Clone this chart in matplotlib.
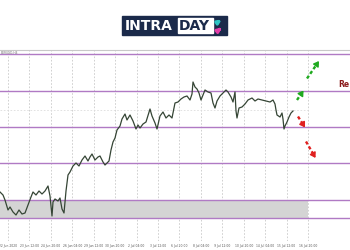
import matplotlib
matplotlib.use("Agg")
import matplotlib.pyplot as plt
from matplotlib.patches import Rectangle, FancyArrowPatch

# ---------------- data ----------------
bars = [0, 3, 5, 8, 10, 13, 16, 19, 22, 25, 28, 31, 33, 36, 39, 42, 45, 48, 50, 52,
        53, 55, 58, 60, 62, 64, 66, 68, 70, 73, 76, 79, 82, 85, 88, 90, 92, 95, 98, 100,
        103, 105, 107, 109, 111, 113, 115, 117, 120, 122, 125, 127, 130, 133, 136, 138,
        140, 143, 146, 150, 152, 155, 157, 160, 163, 166, 169, 172, 175, 178, 181, 184,
        187, 190, 192, 193, 195, 197, 199, 201, 203, 205, 208, 211, 213, 215, 217, 220,
        223, 226, 228, 231, 233, 235, 236, 237, 239, 242, 245, 248, 252, 255, 258, 262,
        266, 270, 273, 275, 276, 277, 280, 282, 283, 284, 285, 287, 289, 291, 293]
price = [1.1616, 1.1610, 1.1600, 1.1580, 1.1586, 1.1576, 1.1570, 1.1580, 1.1572, 1.1574,
         1.1590, 1.1606, 1.1616, 1.1610, 1.1618, 1.1612, 1.1618, 1.1628, 1.1608, 1.1568,
         1.1596, 1.1602, 1.1598, 1.1604, 1.1582, 1.1574, 1.1618, 1.1650, 1.1656, 1.1668,
         1.1674, 1.1668, 1.1680, 1.1688, 1.1678, 1.1686, 1.1692, 1.1680, 1.1686, 1.1688,
         1.1676, 1.1670, 1.1674, 1.1678, 1.1700, 1.1716, 1.1724, 1.1740, 1.1748, 1.1762,
         1.1772, 1.1760, 1.1770, 1.1758, 1.1742, 1.1750, 1.1744, 1.1752, 1.1756, 1.1782,
         1.1768, 1.1754, 1.1742, 1.1768, 1.1776, 1.1764, 1.1770, 1.1764, 1.1794, 1.1796,
         1.1802, 1.1806, 1.1808, 1.1800, 1.1812, 1.1836, 1.1826, 1.1822, 1.1814, 1.1800,
         1.1810, 1.1820, 1.1816, 1.1814, 1.1794, 1.1784, 1.1798, 1.1808, 1.1814, 1.1820,
         1.1816, 1.1806, 1.1796, 1.1816, 1.1778, 1.1764, 1.1784, 1.1786, 1.1792, 1.1800,
         1.1804, 1.1798, 1.1802, 1.1800, 1.1798, 1.1796, 1.1800, 1.1792, 1.1780, 1.1770,
         1.1766, 1.1774, 1.1762, 1.1742, 1.1748, 1.1756, 1.1766, 1.1774, 1.1778]

levels = [1.1892, 1.1818, 1.1746, 1.1674, 1.1600, 1.1564]
zone = (1.1564, 1.1600)
zone_end_bar = 308
grid_prices = [1.1780]

tick_bars = [8, 29.4, 50.9, 72.3, 93.7, 115.1, 136.6, 158, 179.4, 200.9, 222.3, 243.7, 265.1, 286.6, 308]
tick_labels = ["22 Jun 2020", "23 Jun 12:00", "24 Jun 20:00", "26 Jun 04:00", "29 Jun 12:00",
               "30 Jun 20:00", "2 Jul 04:00", "3 Jul 12:00", "6 Jul 20:00", "8 Jul 04:00",
               "9 Jul 12:00", "10 Jul 20:00", "14 Jul 04:00", "15 Jul 12:00", "16 Jul 20:00"]

bull_arrows = [((297, 1.1800), (303.5, 1.1819)), ((307, 1.1843), (319, 1.1878))]
bear_arrows = [((298, 1.1767), (305, 1.1745)), ((306, 1.1717), (315.5, 1.1684))]

# ---------------- figure ----------------
W, H = 350, 250
fig = plt.figure(figsize=(W / 100, H / 100), dpi=100)
fig.patch.set_facecolor("white")

ax = fig.add_axes([0, 9 / H, 1, 191 / H])
ax.set_xlim(0, 350)
ax.set_ylim(1.1518, 1.1900)
ax.set_facecolor("white")
for s in ["left", "right", "bottom"]:
    ax.spines[s].set_visible(False)
ax.spines["top"].set_color("#c8c8c8")
ax.spines["top"].set_linewidth(0.8)
ax.set_yticks([])
ax.set_xticks([])

# vertical grid
for tb in tick_bars:
    ax.axvline(tb, color="#c9c9c9", lw=0.6, ls=(0, (2, 2)), zorder=1)
for gp in grid_prices:
    ax.axhline(gp, xmax=zone_end_bar / 350, color="#dddddd", lw=0.6, ls=(0, (2, 2)), zorder=1)

# zone
ax.fill_between([0, zone_end_bar], zone[0], zone[1], color="#d4d4d4", zorder=1.5, lw=0)

# levels
for lv in levels:
    ax.axhline(lv, color="#b07ac4", lw=1.0, zorder=2)

# price
ax.plot(bars, price, color="#354535", lw=0.9, zorder=3)


def dashed_arrow(a, b, color):
    f = 0.78
    mid = (a[0] + (b[0] - a[0]) * f, a[1] + (b[1] - a[1]) * f)
    ax.plot([a[0], mid[0]], [a[1], mid[1]], color=color, lw=1.7,
            ls=(0, (1.4, 1.0)), solid_capstyle="butt", zorder=4)
    ax.annotate("", xy=b, xytext=mid,
                arrowprops=dict(arrowstyle="-|>,head_length=0.28,head_width=0.18",
                                color=color, lw=1.2, shrinkA=0, shrinkB=0), zorder=4)


for (a, b) in bull_arrows:
    dashed_arrow(a, b, "#1faa1f")
for (a, b) in bear_arrows:
    dashed_arrow(a, b, "#e0201f")

ax.text(349, 1.1830, "Re", color="#8b1a1a", fontsize=5.5, fontweight="bold",
        va="center", ha="right")
ax.text(1, 1.1897, "EURUSD,H4", color="#777777", fontsize=2.2, va="top", ha="left")

for tb, tl in zip(tick_bars, tick_labels):
    fig.text(tb / W, 1 - 246 / H, tl, fontsize=2.2, color="#555555", ha="center", va="center")

# logo
lx = fig.add_axes([0, 0, 1, 1], zorder=10)
lx.set_xlim(0, W)
lx.set_ylim(H, 0)
lx.axis("off")
lx.patch.set_alpha(0)
lx.add_patch(Rectangle((122, 15.5), 105, 19, color="#1b2a4a"))
lx.add_patch(Rectangle((178, 17.5), 35, 15, color="white"))
lx.text(125, 25.5, "INTRA", color="white", fontsize=10, fontweight="bold", va="center", ha="left")
lx.text(179, 25.5, "DAY", color="#1b2a4a", fontsize=10, fontweight="bold", va="center", ha="left")
lx.add_patch(FancyArrowPatch((215, 24), (224, 18), arrowstyle="-|>", mutation_scale=5, color="#2ec4c4", lw=2.2))
lx.add_patch(FancyArrowPatch((216, 32), (224, 26), arrowstyle="-|>", mutation_scale=5, color="#e23ca8", lw=2.2))

fig.savefig("out.png", dpi=100)
